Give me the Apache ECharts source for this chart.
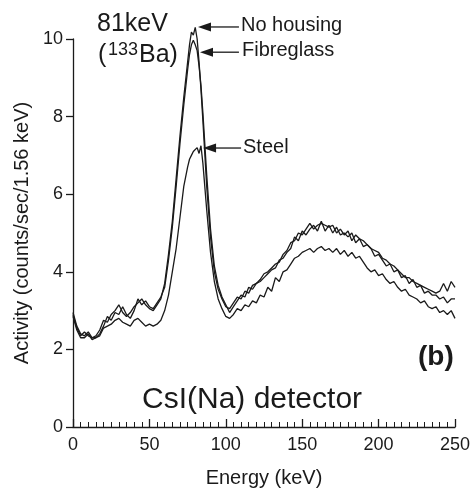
<!DOCTYPE html>
<html>
<head>
<meta charset="utf-8">
<script src="https://cdn.jsdelivr.net/npm/echarts@6/dist/echarts.min.js"></script>
<style>
html,body{margin:0;padding:0;background:#fff;}
#chart{width:476px;height:493px;}
</style>
</head>
<body>
<div id="chart"></div>
<script>
// Energy bins (keV)
const energies = [
  0,2.5,5,7.5,10,12.5,15,17.5,20,22.5,
  25,27.5,30,32.5,35,37.5,40,42.5,45,47.5,
  50,52.5,55,57.5,60,62.5,65,67.5,70,72.5,
  75,
  76.25,77.5,78.75,80,81.25,82.5,83.75,85,
  87.5,90,92.5,95,97.5,100,102.5,105,107.5,110,
  112.5,115,117.5,120,122.5,125,127.5,130,132.5,135,
  137.5,140,142.5,145,147.5,150,152.5,155,157.5,160,
  162.5,165,167.5,170,172.5,175,177.5,180,182.5,185,
  187.5,190,192.5,195,197.5,200,202.5,205,207.5,210,
  212.5,215,217.5,220,222.5,225,227.5,230,232.5,235,
  237.5,240,242.5,245,247.5,250
];
// Activity (counts/sec/1.56 keV)
const noHousing = [
  2.95,2.6,2.4,2.35,2.45,2.3,2.35,2.5,2.75,2.7,
  2.9,3.0,3.15,2.95,2.85,2.95,3.1,3.2,3.3,3.15,
  3.05,3.0,3.15,3.3,3.7,4.45,5.3,6.4,7.5,8.5,
  9.4,
  9.85,10.18,10.1,10.3,10.0,9.4,8.7,7.9,
  6.2,4.9,4.0,3.55,3.3,3.1,3.05,3.2,3.35,3.3,
  3.5,3.45,3.65,3.7,3.8,3.95,4.0,4.1,4.2,4.25,
  4.45,4.55,4.75,4.8,5.0,4.95,5.1,5.25,5.1,5.2,
  5.25,5.2,5.15,5.2,5.0,5.1,4.95,5.05,4.8,4.95,
  4.85,4.8,4.7,4.6,4.55,4.5,4.35,4.3,4.2,4.15,
  4.05,3.95,3.85,3.85,3.75,3.7,3.65,3.6,3.55,3.5,
  3.45,3.5,3.7,3.5,3.75,3.6
];
const fibreglass = [
  2.9,2.55,2.35,2.45,2.35,2.3,2.3,2.4,2.6,2.85,
  2.75,2.95,2.9,3.1,2.9,2.8,3.0,3.3,3.15,3.25,
  3.1,3.05,3.2,3.35,3.6,4.3,5.15,6.2,7.3,8.3,
  9.2,
  9.6,9.85,9.97,9.85,9.7,9.3,8.8,8.1,
  6.5,5.1,4.15,3.65,3.35,3.15,2.95,3.1,3.25,3.4,
  3.35,3.6,3.55,3.7,3.75,3.85,3.95,4.05,4.1,4.3,
  4.35,4.5,4.6,4.9,4.8,5.05,4.95,5.1,5.2,5.05,
  5.3,5.05,5.2,5.0,5.15,4.95,5.0,4.9,5.0,4.75,
  4.85,4.65,4.7,4.6,4.4,4.45,4.3,4.15,4.2,4.0,
  4.05,3.85,3.9,3.7,3.8,3.6,3.65,3.45,3.5,3.4,
  3.4,3.3,3.35,3.2,3.3,3.3
];
const steel = [
  2.85,2.5,2.3,2.3,2.4,2.25,2.3,2.35,2.55,2.6,
  2.65,2.75,2.8,2.7,2.65,2.6,2.75,2.8,2.7,2.6,
  2.65,2.6,2.65,2.75,3.0,3.4,4.0,4.6,5.4,6.2,
  6.7,
  6.9,7.0,7.1,7.15,7.2,7.05,7.25,6.8,
  5.6,4.5,3.75,3.3,3.05,2.85,2.8,2.9,3.05,3.0,
  3.15,3.1,3.25,3.2,3.4,3.35,3.6,3.5,3.85,3.75,
  4.0,4.05,4.2,4.35,4.4,4.5,4.55,4.6,4.5,4.6,
  4.65,4.55,4.6,4.5,4.6,4.45,4.55,4.4,4.5,4.35,
  4.4,4.25,4.1,4.0,4.05,3.9,3.95,3.8,3.7,3.75,
  3.6,3.5,3.55,3.4,3.35,3.3,3.2,3.25,3.1,3.05,
  3.1,2.95,3.0,2.9,3.0,2.8
];
const xTicks = [0, 50, 100, 150, 200, 250];
const yTicks = [0, 2, 4, 6, 8, 10];
// Arrow annotations: [tail, tip] in data coordinates
const arrowNoHousing = [[108.6, 10.31], [81.8, 10.31]];
const arrowFibreglass = [[108.6, 9.66], [83.1, 9.66]];
const arrowSteel = [[110, 7.19], [85.1, 7.19]];

const INK = '#1a1a1a';
const FONT = 'Liberation Sans, Arial, Helvetica, sans-serif';

function pairs(vals) { return energies.map((e, i) => [e, vals[i]]); }

const chart = echarts.init(document.getElementById('chart'), null, { renderer: 'canvas' });
const lineStyle = { color: INK, width: 1.3 };
const texts = [
  { type: 'text', left: 97, top: 12, style: { text: '81keV', font: '25px ' + FONT, fill: INK } },
  { type: 'text', left: 98, top: 43, style: { text: '(', font: '25px ' + FONT, fill: INK } },
  { type: 'text', left: 108, top: 41, style: { text: '133', font: '18px ' + FONT, fill: INK } },
  { type: 'text', left: 139, top: 43, style: { text: 'Ba)', font: '25px ' + FONT, fill: INK } },
  { type: 'text', left: 241, top: 15, style: { text: 'No housing', font: '20px ' + FONT, fill: INK } },
  { type: 'text', left: 242, top: 40, style: { text: 'Fibreglass', font: '20px ' + FONT, fill: INK } },
  { type: 'text', left: 243, top: 137, style: { text: 'Steel', font: '20px ' + FONT, fill: INK } },
  { type: 'text', left: 418, top: 343, style: { text: '(b)', font: 'bold 28px ' + FONT, fill: INK } },
  { type: 'text', left: 142, top: 385, style: { text: 'CsI(Na) detector', font: '30px ' + FONT, fill: INK } }
];
const option = {
  animation: false,
  backgroundColor: '#fff',
  grid: { left: 73, right: 21, top: 39, bottom: 66, containLabel: false },
  xAxis: {
    type: 'value', min: xTicks[0], max: xTicks[xTicks.length - 1], interval: 50,
    name: 'Energy (keV)', nameLocation: 'middle', nameGap: 41,
    nameTextStyle: { fontFamily: FONT, fontSize: 20, color: INK },
    axisLine: { show: true, onZero: false, lineStyle: { color: INK, width: 1.3 } },
    axisTick: { show: true, inside: true, length: 8, lineStyle: { color: INK, width: 1.3 } },
    minorTick: { show: true, splitNumber: 10, length: 5, lineStyle: { color: INK, width: 1 } },
    axisLabel: { fontFamily: FONT, fontSize: 18, color: INK, margin: 9 },
    splitLine: { show: false }
  },
  yAxis: {
    type: 'value', min: yTicks[0], max: yTicks[yTicks.length - 1], interval: 2,
    name: 'Activity (counts/sec/1.56 keV)', nameLocation: 'middle', nameRotate: 90, nameGap: 38,
    nameTextStyle: { fontFamily: FONT, fontSize: 20, color: INK },
    axisLine: { show: true, onZero: false, lineStyle: { color: INK, width: 1.3 } },
    axisTick: { show: true, inside: false, length: 7, lineStyle: { color: INK, width: 1.3 } },
    axisLabel: { fontFamily: FONT, fontSize: 18, color: INK, margin: 10 },
    splitLine: { show: false }
  },
  series: [
    { name: 'No housing', type: 'line', data: pairs(noHousing), showSymbol: false, clip: false, lineStyle: lineStyle, z: 3 },
    { name: 'Fibreglass', type: 'line', data: pairs(fibreglass), showSymbol: false, clip: false, lineStyle: lineStyle, z: 3 },
    { name: 'Steel', type: 'line', data: pairs(steel), showSymbol: false, clip: false, lineStyle: lineStyle, z: 3 }
  ],
  graphic: texts
};
chart.setOption(option);

// Arrows placed through the chart's own coordinate system
const arrowEls = [];
[arrowNoHousing, arrowFibreglass, arrowSteel].forEach(function (a) {
  const tail = chart.convertToPixel({ gridIndex: 0 }, a[0]);
  const tip = chart.convertToPixel({ gridIndex: 0 }, a[1]);
  const headLen = 13, headHalf = 4.5;
  arrowEls.push({ type: 'line', shape: { x1: tail[0], y1: tail[1], x2: tip[0] + headLen - 1, y2: tip[1] },
    style: { stroke: INK, lineWidth: 1.3 } });
  arrowEls.push({ type: 'polygon', shape: { points: [[tip[0], tip[1]], [tip[0] + headLen, tip[1] - headHalf], [tip[0] + headLen, tip[1] + headHalf]] },
    style: { fill: INK } });
});
chart.setOption({ graphic: texts.concat(arrowEls) });
</script>
</body>
</html>
